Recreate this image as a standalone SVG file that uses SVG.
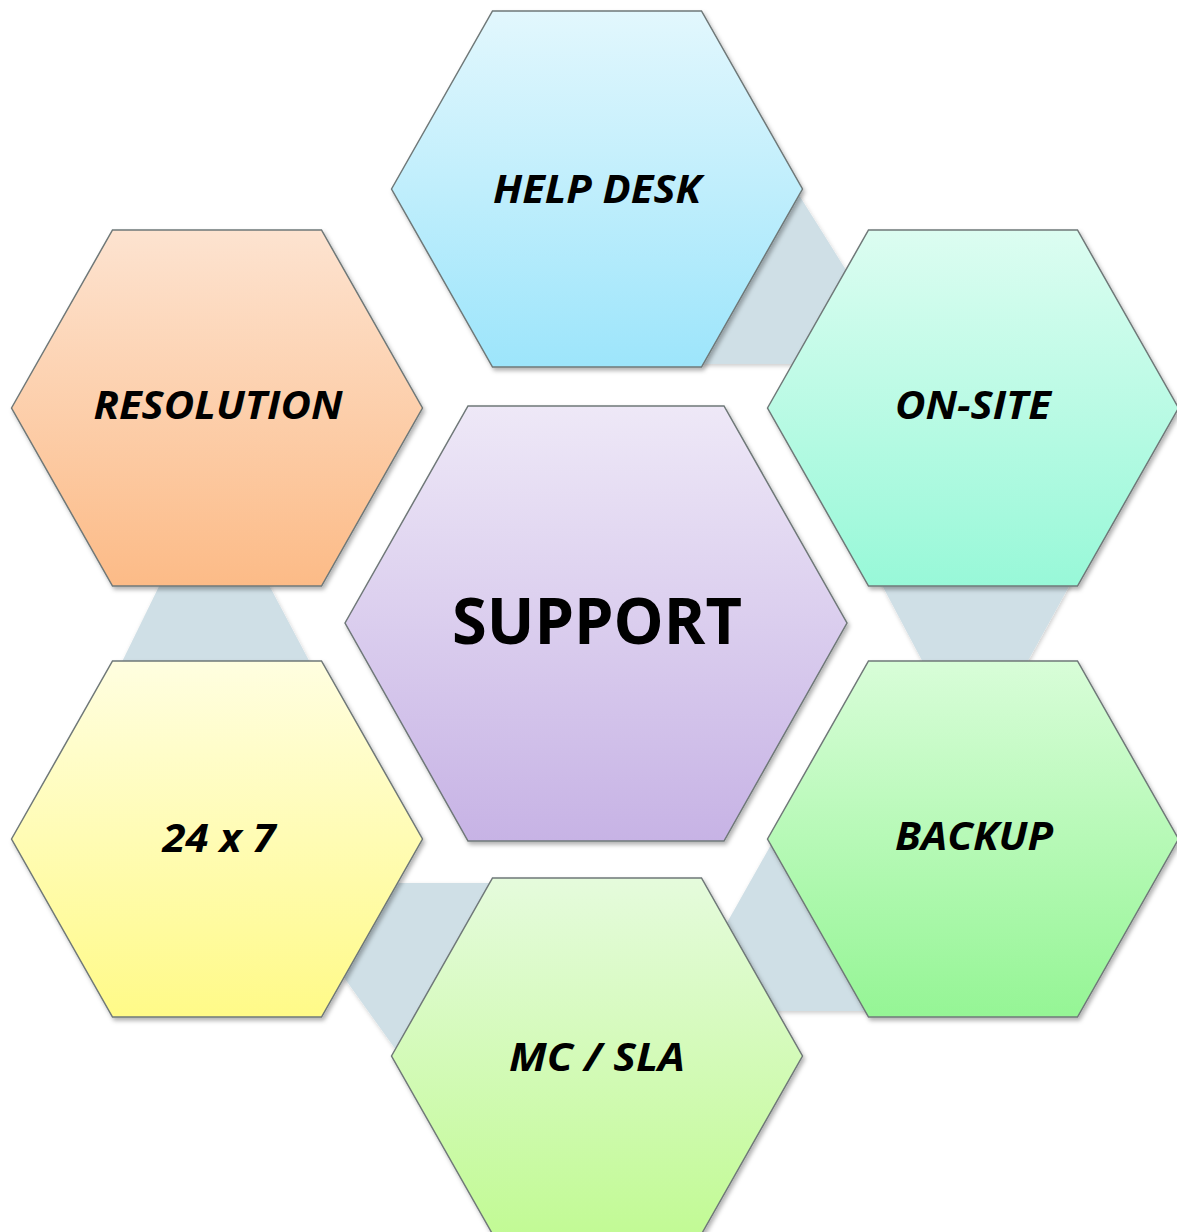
<svg xmlns="http://www.w3.org/2000/svg" width="1177" height="1232" viewBox="0 0 1177 1232">
  <style>
    .hex { stroke: #6f7878; stroke-width: 1.5; filter: url(#shadow); }
    .conn { fill: #cfdfe6; filter: url(#cshadow); }
    .lbl { font-family: "Open Sans", "Noto Sans", sans-serif; font-weight: bold; font-style: italic; font-size: 40px; fill: #000; text-anchor: middle; }
    .main { font-family: "Open Sans", "Noto Sans", sans-serif; font-weight: bold; font-size: 65px; fill: #000; text-anchor: middle; }
  </style>
  <defs>
    <filter id="shadow" x="-10%" y="-10%" width="120%" height="120%">
      <feDropShadow dx="2" dy="3" stdDeviation="2" flood-color="#000" flood-opacity="0.3"/>
    </filter>
    <filter id="cshadow" x="-10%" y="-10%" width="120%" height="120%">
      <feDropShadow dx="1" dy="2" stdDeviation="2" flood-color="#000" flood-opacity="0.2"/>
    </filter>
    <linearGradient id="gHD" x1="0" y1="0" x2="0" y2="1"><stop offset="0" stop-color="#e2f7fd"/><stop offset="1" stop-color="#9de5fb"/></linearGradient>
    <linearGradient id="gOS" x1="0" y1="0" x2="0" y2="1"><stop offset="0" stop-color="#dcfdf1"/><stop offset="1" stop-color="#98f8d8"/></linearGradient>
    <linearGradient id="gBK" x1="0" y1="0" x2="0" y2="1"><stop offset="0" stop-color="#d8fdd8"/><stop offset="1" stop-color="#95f595"/></linearGradient>
    <linearGradient id="gMC" x1="0" y1="0" x2="0" y2="1"><stop offset="0" stop-color="#e5fbdc"/><stop offset="1" stop-color="#c2fa95"/></linearGradient>
    <linearGradient id="g24" x1="0" y1="0" x2="0" y2="1"><stop offset="0" stop-color="#fffee0"/><stop offset="1" stop-color="#fffa88"/></linearGradient>
    <linearGradient id="gRS" x1="0" y1="0" x2="0" y2="1"><stop offset="0" stop-color="#fde3d0"/><stop offset="1" stop-color="#fcbb87"/></linearGradient>
    <linearGradient id="gSP" x1="0" y1="0" x2="0" y2="1"><stop offset="0" stop-color="#eee8f7"/><stop offset="1" stop-color="#c7b3e5"/></linearGradient>
  </defs>

  <g id="connectors">
    <polygon class="conn" points="794,187 856,286 810,364 700,364"/>
    <polygon class="conn" points="874,570 1078,570 1023,670 927,670"/>
    <polygon class="conn" points="772,843 724,928 760,1011 880,1011"/>
    <polygon class="conn" points="380,883 500,883 500,1000 396,1050 340,972"/>
    <polygon class="conn" points="167,570 261,570 314,670 118,670"/>
  </g>

  <g id="node-helpdesk" transform="translate(597,189)">
    <polygon class="hex" fill="url(#gHD)" points="-205.5,0 -104.5,-178 104.5,-178 205.5,0 104.5,178 -104.5,178"/>
    <text class="lbl" x="0" y="14" textLength="208" lengthAdjust="spacingAndGlyphs">HELP DESK</text>
  </g>
  <g id="node-onsite" transform="translate(973,408)">
    <polygon class="hex" fill="url(#gOS)" points="-205.5,0 -104.5,-178 104.5,-178 205.5,0 104.5,178 -104.5,178"/>
    <text class="lbl" x="0" y="11" textLength="156" lengthAdjust="spacingAndGlyphs">ON-SITE</text>
  </g>
  <g id="node-backup" transform="translate(973,839)">
    <polygon class="hex" fill="url(#gBK)" points="-205.5,0 -104.5,-178 104.5,-178 205.5,0 104.5,178 -104.5,178"/>
    <text class="lbl" x="1" y="11" textLength="158" lengthAdjust="spacingAndGlyphs">BACKUP</text>
  </g>
  <g id="node-mcsla" transform="translate(597,1056)">
    <polygon class="hex" fill="url(#gMC)" points="-205.5,0 -104.5,-178 104.5,-178 205.5,0 104.5,178 -104.5,178"/>
    <text class="lbl" x="0" y="15" textLength="176" lengthAdjust="spacingAndGlyphs">MC / SLA</text>
  </g>
  <g id="node-24x7" transform="translate(217,839)">
    <polygon class="hex" fill="url(#g24)" points="-205.5,0 -104.5,-178 104.5,-178 205.5,0 104.5,178 -104.5,178"/>
    <text class="lbl" x="2" y="13" textLength="113" lengthAdjust="spacingAndGlyphs">24 x 7</text>
  </g>
  <g id="node-resolution" transform="translate(217,408)">
    <polygon class="hex" fill="url(#gRS)" points="-205.5,0 -104.5,-178 104.5,-178 205.5,0 104.5,178 -104.5,178"/>
    <text class="lbl" x="1" y="11" textLength="249" lengthAdjust="spacingAndGlyphs">RESOLUTION</text>
  </g>
  <g id="node-support" transform="translate(596,623)">
    <polygon class="hex" fill="url(#gSP)" points="-251,0 -128,-217 128,-217 251,0 128,218 -128,218"/>
    <text class="main" x="1" y="21" textLength="290" lengthAdjust="spacingAndGlyphs">SUPPORT</text>
  </g>
</svg>
